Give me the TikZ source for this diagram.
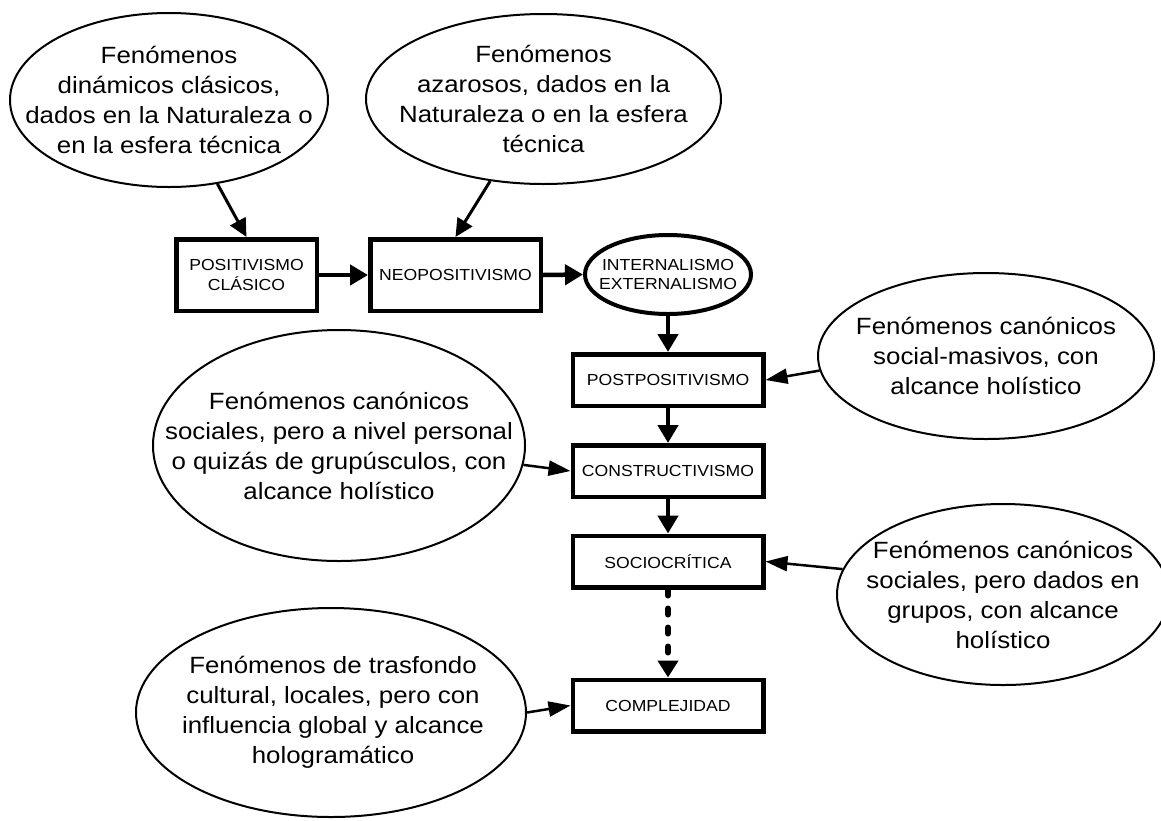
\documentclass[tikz,border=0pt]{standalone}
\usepackage{fontspec}
\setmainfont{Liberation Sans}[FakeStretch=1.1]
\usetikzlibrary{arrows.meta,shapes.geometric}

\begin{document}
\begin{tikzpicture}[x=1pt,y=-1pt,
  bubble/.style={draw, ellipse, line width=2pt, inner sep=0pt},
  bubbletext/.style={align=center, inner sep=0pt, font=\fontsize{23.5}{30}\selectfont},
  stage/.style={draw, rectangle, line width=4.5pt, inner sep=0pt, align=center,
                font=\fontsize{16}{19.5}\selectfont},
  pivot/.style={draw, ellipse, line width=4pt, inner sep=0pt},
  pivottext/.style={align=center, inner sep=0pt, font=\fontsize{16}{19.5}\selectfont},
  flow/.style={-{Triangle[length=18pt,width=20pt]}, line width=4.5pt},
  feed/.style={-{Triangle[length=18pt,width=17pt]}, line width=3pt},
  feedthin/.style={-{Triangle[length=22pt,width=15pt]}, line width=2.5pt},
  leap/.style={-{Triangle[length=17pt,width=20pt]}, line width=6pt,
               dash pattern=on 6pt off 13pt, line cap=round}
]
\clip (0,0) rectangle (1161,820);
\fill[white] (0,0) rectangle (1161,820);

% phenomena feeding the first paradigms
\node[bubble, minimum width=318pt, minimum height=174pt] (e1) at (169,100) {};
\node[bubbletext] (t1) at (e1) {Fenómenos\\dinámicos clásicos,\\dados en la Naturaleza o\\en la esfera técnica};
\node[bubble, minimum width=355pt, minimum height=170pt] (e2) at (543.5,99) {};
\node[bubbletext] (t2) at (e2) {Fenómenos\\azarosos, dados en la\\Naturaleza o en la esfera\\técnica};

% paradigm sequence
\node[stage, minimum width=140.5pt, minimum height=71.5pt] (b1) at (246.5,275) {POSITIVISMO\\CLÁSICO};
\node[stage, minimum width=170.5pt, minimum height=71.5pt] (b2) at (455.5,275) {NEOPOSITIVISMO};
\node[pivot, minimum width=166pt, minimum height=79pt] (ie) at (668,274.5) {};
\node[pivottext] (tie) at (ie) {INTERNALISMO\\EXTERNALISMO};
\node[stage, minimum width=190.5pt, minimum height=51.5pt] (c1) at (668,380) {POSTPOSITIVISMO};
\node[stage, minimum width=190.5pt, minimum height=51.5pt] (c2) at (668,471) {CONSTRUCTIVISMO};
\node[stage, minimum width=190.5pt, minimum height=51.5pt] (c3) at (668,561.5) {SOCIOCRÍTICA};
\node[stage, minimum width=190.5pt, minimum height=51.5pt] (c4) at (668,705.5) {COMPLEJIDAD};

% phenomena feeding the later paradigms
\node[bubble, minimum width=336pt, minimum height=166pt] (e3) at (986,356) {};
\node[bubbletext] (t3) at (e3) {Fenómenos canónicos\\social-masivos, con\\alcance holístico};
\node[bubble, minimum width=372pt, minimum height=231pt] (e4) at (339,445.5) {};
\node[bubbletext] (t4) at (e4) {Fenómenos canónicos\\sociales, pero a nivel personal\\o quizás de grupúsculos, con\\alcance holístico};
\node[bubble, minimum width=332pt, minimum height=181pt] (e5) at (1003,594.5) {};
\node[bubbletext] (t5) at (e5) {Fenómenos canónicos\\sociales, pero dados en\\grupos, con alcance\\holístico};
\node[bubble, minimum width=390pt, minimum height=209pt] (e6) at (331,712.5) {};
\node[bubbletext] (t6) at (333,712.5) {Fenómenos de trasfondo\\cultural, locales, pero con\\influencia global y alcance\\hologramático};

% connectors
\draw[feed] (e1.-60.5) -- (b1.north);
\draw[feed] (e2.237.5) -- (b2.north);
\draw[flow] (b1.east) -- (b2.west);
\draw[flow] (b2.east) -- (ie.west);
\draw[flow] (ie.south) -- (c1.north);
\draw[feedthin] (e3.185.95) -- (c1.east);
\draw[flow] (c1.south) -- (c2.north);
\draw[feedthin] (e4.-6.3) -- (c2.west);
\draw[flow] (c2.south) -- (c3.north);
\draw[feedthin] (e5.171.2) -- (c3.east);
\draw[leap] (c3.south) -- (c4.north);
\draw[feedthin] (e6.0.7) -- (c4.west);
\end{tikzpicture}
\end{document}
